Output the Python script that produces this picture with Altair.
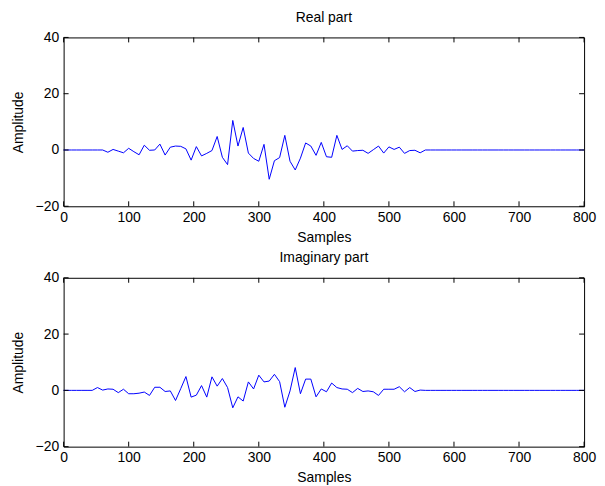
import altair as alt
import pandas as pd

samples = [0] + list(range(4, 800, 8)) + [800]

real_part = (
    [0.0] + [0.0] * 7 + [0.0] +
    [-0.8, 0.2, -0.4, -1.0, 0.6, -0.6, -1.7, 1.7, -0.1, 0.0,
     2.1, -1.8, 1.0, 1.4, 1.3, 0.4, -3.6, 1.2, -2.1, -1.2,
     -0.2, 4.8, -2.6, -5.2, 10.5, 1.4, 8.0, -1.1, -3.0, -4.0,
     2.0, -10.4, -3.8, -2.7, 5.2, -4.0, -7.1, -2.9, 2.5, 1.4,
     -1.9, 2.7, -2.4, -2.6, 5.2, 0.2, 1.5, -0.4, -0.2, -0.1,
     -1.2, 0.1, 1.4, -1.1, 1.1, 0.2, 1.0, -1.2, -0.2, -0.1,
     -1.0, 0.0] +
    [0.0] * 30 + [0.0]
)

imag_part = (
    [0.0] + [0.0] * 6 +
    [1.0, 0.1, 0.5, 0.4, -0.8, 0.4, -1.2, -1.2, -1.0, -0.6,
     -1.8, 1.1, 1.1, -0.4, -0.2, -3.6, 0.6, 4.9, -2.4, -1.7,
     1.7, -2.4, 4.8, 1.5, 4.2, 1.0, -6.2, -2.3, -3.8, 3.0,
     0.5, 5.4, 3.0, 3.3, 5.7, 3.1, -6.0, -0.2, 8.1, -1.2,
     4.0, 4.0, -2.3, 0.5, -0.5, 2.6, 1.0, 0.5, 0.4, -0.8,
     0.7, -0.4, -0.2, -0.5, -1.8, 0.4, 0.4, 0.4, 1.3, -0.5,
     1.0, -0.4, 0.1, 0.0] +
    [0.0] * 30 + [0.0]
)

x_ticks = [0, 100, 200, 300, 400, 500, 600, 700, 800]
y_ticks = [-20, 0, 20, 40]

W, H = 524, 170
FONT = "Liberation Sans"
FS = 14
TL = 5  # inner tick length in px

xscale = alt.Scale(domain=[0, 800], nice=False, zero=False)
yscale = alt.Scale(domain=[-20, 40], nice=False, zero=False)


def X():
    return alt.X("Samples:Q", scale=xscale,
                 axis=alt.Axis(values=x_ticks, title="Samples", format="d",
                               labelFlush=False, labelOverlap=False))


def Y():
    return alt.Y("Amplitude:Q", scale=yscale,
                 axis=alt.Axis(values=y_ticks, title="Amplitude", format="d",
                               labelFlush=False, labelOverlap=False))


def panel(values, title):
    df = pd.DataFrame({"Samples": samples, "Amplitude": values})
    xt = pd.DataFrame({"Samples": x_ticks})
    yt = pd.DataFrame({"Amplitude": y_ticks})

    line = alt.Chart(df).mark_line(color="#0000ff", strokeWidth=1).encode(x=X(), y=Y())
    tb = alt.Chart(xt).mark_rule(color="black", strokeWidth=1).encode(
        x=X(), y=alt.value(H), y2=alt.value(H - TL))
    tt = alt.Chart(xt).mark_rule(color="black", strokeWidth=1).encode(
        x=X(), y=alt.value(0), y2=alt.value(TL))
    tl = alt.Chart(yt).mark_rule(color="black", strokeWidth=1).encode(
        y=Y(), x=alt.value(0), x2=alt.value(TL))
    tr = alt.Chart(yt).mark_rule(color="black", strokeWidth=1).encode(
        y=Y(), x=alt.value(W - TL), x2=alt.value(W))
    return alt.layer(line, tb, tt, tl, tr).properties(
        width=W, height=H,
        title=alt.TitleParams(title, fontSize=FS, fontWeight="normal",
                              font=FONT, color="black", offset=6,
                              frame="group", anchor="middle"),
    )


chart = alt.vconcat(
    panel(real_part, "Real part"),
    panel(imag_part, "Imaginary part"),
    spacing=5,
).properties(
    padding={"left": 2, "top": 0, "right": 0, "bottom": 0},
    background="white",
).configure_view(
    stroke="black", strokeWidth=1,
).configure_axis(
    grid=False, domain=False, ticks=False, tickSize=0,
    labelFont=FONT, titleFont=FONT, labelFontSize=FS, titleFontSize=FS,
    titleFontWeight="normal", labelColor="black", titleColor="black",
    labelPadding=4,
).configure_axisX(titlePadding=6).configure_axisY(titlePadding=10, labelPadding=5)

chart.save("out.html", embed_options={"renderer": "svg", "actions": False})
